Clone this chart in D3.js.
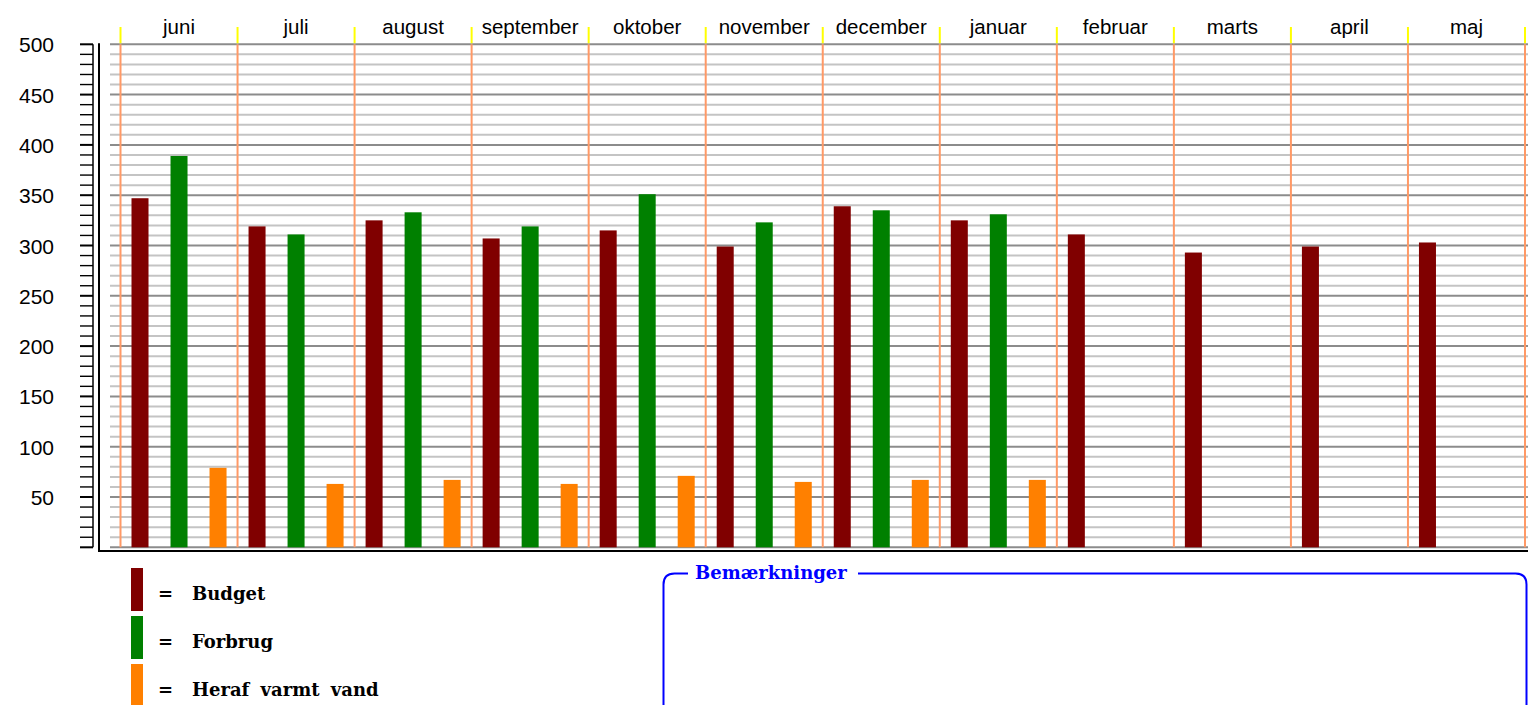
<!DOCTYPE html>
<html>
<head>
<meta charset="utf-8">
<script src="https://cdn.jsdelivr.net/npm/d3@7"></script>
<style>
  body { margin: 0; background: #fff; }
  svg { display: block; }
</style>
</head>
<body>
<svg id="chart" width="1528" height="705"></svg>
<script>
// data
var months = ["juni", "juli", "august", "september", "oktober", "november", "december", "januar", "februar", "marts", "april", "maj"];
var seriesNames = ["Budget", "Forbrug", "Heraf varmt vand"];
var seriesColors = ["#800000", "#008000", "#ff8000"];
var budget  = [347, 319, 325, 307, 315, 299, 339, 325, 311, 293, 299, 303];
var forbrug = [389, 311, 333, 319, 351, 323, 335, 331, null, null, null, null];
var varmt   = [79, 63, 67, 63, 71, 65, 67, 67, null, null, null, null];
var yLabels = [50, 100, 150, 200, 250, 300, 350, 400, 450, 500];

var svg = d3.select("svg#chart"),
    width = +svg.attr("width"),
    height = +svg.attr("height");

var y = d3.scaleLinear().domain([0, 500]).range([547.3, 44.3]);
var x0 = d3.scaleBand().domain(months).range([120.5, 1525]);
var x1 = d3.scaleBand().domain(seriesNames).range([0, x0.bandwidth()])
    .paddingInner(0.564).paddingOuter(0.282);

var minorTicks = d3.range(0, 501, 10);

//grid lines, light every 10 and dark every 50
svg.append("g").selectAll("line")
    .data(minorTicks)
    .enter().append("line")
    .attr("x1", 110).attr("x2", width)
    .attr("y1", function(d) { return y(d); })
    .attr("y2", function(d) { return y(d); })
    .attr("stroke", function(d) { return d % 50 == 0 ? "#8c8c8c" : "#c4c4c4"; })
    .attr("stroke-width", 2);

//month separators: orange in the plot, yellow above
svg.append("g").selectAll("line")
    .data(months.concat(["end"]))
    .enter().append("line")
    .attr("x1", function(d, i) { return i < 12 ? x0(d) : x0.range()[1]; })
    .attr("x2", function(d, i) { return i < 12 ? x0(d) : x0.range()[1]; })
    .attr("y1", y(500)).attr("y2", y(0))
    .attr("stroke", "#ff9966").attr("stroke-width", 2);

svg.append("g").selectAll("line")
    .data(months.concat(["end"]))
    .enter().append("line")
    .attr("x1", function(d, i) { return i < 12 ? x0(d) : x0.range()[1]; })
    .attr("x2", function(d, i) { return i < 12 ? x0(d) : x0.range()[1]; })
    .attr("y1", 27).attr("y2", y(500) - 1)
    .attr("stroke", "#ffff00").attr("stroke-width", 2);

//month labels
svg.append("g").selectAll("text")
    .data(months)
    .enter().append("text")
    .attr("x", function(d) { return x0(d) + x0.bandwidth() / 2; })
    .attr("y", 34)
    .attr("text-anchor", "middle")
    .style("font-family", "'Liberation Sans', Arial, sans-serif")
    .style("font-size", "20.5px")
    .style("fill", "#000")
    .text(function(d) { return d; });

//bars
var rows = months.map(function(m, i) {
  return { month: m, values: [budget[i], forbrug[i], varmt[i]] };
});

var groups = svg.append("g").selectAll("g")
    .data(rows)
    .enter().append("g")
    .attr("transform", function(d) { return "translate(" + x0(d.month) + ",0)"; });

groups.selectAll("rect")
    .data(function(d) {
      return seriesNames.map(function(s, j) { return { key: s, value: d.values[j], color: seriesColors[j] }; })
        .filter(function(e) { return e.value != null; });
    })
    .enter().append("rect")
    .attr("x", function(d) { return x1(d.key); })
    .attr("width", x1.bandwidth())
    .attr("y", function(d) { return y(d.value); })
    .attr("height", function(d) { return y(0) - y(d.value); })
    .attr("fill", function(d) { return d.color; });

//left axis: tick comb and labels
var axisG = svg.append("g");
axisG.selectAll("line.tick")
    .data(minorTicks)
    .enter().append("line")
    .attr("class", "tick")
    .attr("x1", 80).attr("x2", 93)
    .attr("y1", function(d) { return y(d); })
    .attr("y2", function(d) { return y(d); })
    .attr("stroke", "#000")
    .attr("stroke-width", function(d) { return d % 50 == 0 ? 2 : 1.4; });

axisG.append("line")
    .attr("x1", 93).attr("x2", 93)
    .attr("y1", y(500)).attr("y2", y(0))
    .attr("stroke", "#000").attr("stroke-width", 1.5);

axisG.selectAll("text")
    .data(yLabels)
    .enter().append("text")
    .attr("x", 54)
    .attr("y", function(d) { return y(d) + 8; })
    .attr("text-anchor", "end")
    .style("font-family", "'Liberation Sans', Arial, sans-serif")
    .style("font-size", "21px")
    .style("fill", "#000")
    .text(function(d) { return d; });

//frame lines left and bottom
svg.append("line")
    .attr("x1", 99).attr("x2", 99)
    .attr("y1", y(500) - 1).attr("y2", 552)
    .attr("stroke", "#000").attr("stroke-width", 2);
svg.append("line")
    .attr("x1", 98).attr("x2", width)
    .attr("y1", 551).attr("y2", 551)
    .attr("stroke", "#000").attr("stroke-width", 2);

//legend
var legend = svg.append("g").selectAll("g")
    .data(seriesNames)
    .enter().append("g")
    .attr("transform", function(d, i) { return "translate(131," + (568 + i * 48) + ")"; });

legend.append("rect")
    .attr("width", 12).attr("height", 43)
    .attr("fill", function(d, i) { return seriesColors[i]; });

legend.append("text")
    .attr("x", 27).attr("y", 32)
    .style("font-family", "'DejaVu Serif', serif")
    .style("font-weight", "bold")
    .style("font-size", "18px")
    .text("=");

legend.append("text")
    .attr("x", 61).attr("y", 32)
    .style("font-family", "'DejaVu Serif', serif")
    .style("font-weight", "bold")
    .style("font-size", "18px")
    .style("word-spacing", "5px")
    .text(function(d) { return d; });

//remarks box
var bx = 663.5, by = 573.5, bw = 1526.5, r = 11;
var gapL = 688, gapR = 858;
var boxPath = "M" + gapL + "," + by +
    " L" + (bx + r) + "," + by +
    " Q" + bx + "," + by + " " + bx + "," + (by + r) +
    " L" + bx + "," + (height + 5) +
    " M" + bw + "," + (height + 5) +
    " L" + bw + "," + (by + r) +
    " Q" + bw + "," + by + " " + (bw - r) + "," + by +
    " L" + gapR + "," + by;
svg.append("path")
    .attr("d", boxPath)
    .attr("fill", "none")
    .attr("stroke", "#0000ff")
    .attr("stroke-width", 2);

svg.append("text")
    .attr("x", 695).attr("y", 579)
    .style("font-family", "'DejaVu Serif', serif")
    .style("font-weight", "bold")
    .style("font-size", "18px")
    .style("fill", "#0000ff")
    .text("Bemærkninger");
</script>
</body>
</html>
